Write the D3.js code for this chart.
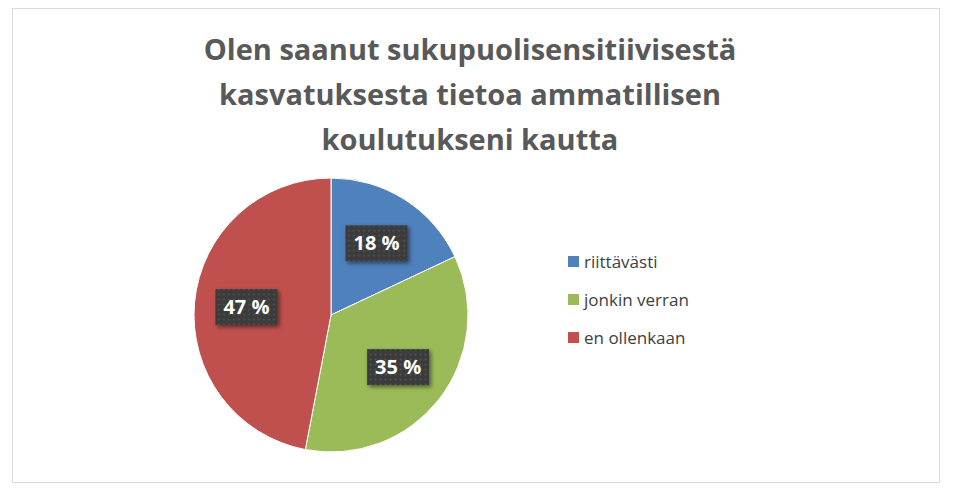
<!DOCTYPE html>
<html><head><meta charset="utf-8">
<script src="https://cdn.jsdelivr.net/npm/d3@7"></script>
<style>body{margin:0;background:#fff}</style>
</head><body>
<script>
// chart data
var categories = ["riittävästi", "jonkin verran", "en ollenkaan"];
var values = [18, 35, 47];
var colors = ["#4f81bd", "#9bbb59", "#c0504d"];
var titleLines = ["Olen saanut sukupuolisensitiivisestä", "kasvatuksesta tietoa ammatillisen", "koulutukseni kautta"];

var svg = d3.select("body").append("svg").attr("width", 954).attr("height", 501);
var font = "'Open Sans', 'Noto Sans', sans-serif";

var defs = svg.append("defs");
var pat = defs.append("pattern").attr("id", "dots").attr("width", 5).attr("height", 5)
    .attr("patternUnits", "userSpaceOnUse");
pat.append("rect").attr("width", 5).attr("height", 5).attr("fill", "#3b3b3b");
pat.append("circle").attr("cx", 2.5).attr("cy", 2.5).attr("r", 1).attr("fill", "#555");
var sh = defs.append("filter").attr("id", "sh").attr("x", "-20%").attr("y", "-20%").attr("width", "150%").attr("height", "150%");
sh.append("feDropShadow").attr("dx", 2).attr("dy", 2).attr("stdDeviation", 2).attr("flood-opacity", 0.5);

svg.append("rect").attr("x", 12.5).attr("y", 8.5).attr("width", 927).attr("height", 474)
    .attr("fill", "#fff").attr("stroke", "#d9d9d9");

svg.append("g").selectAll("text").data(titleLines).join("text")
    .attr("x", 470).attr("y", function (d, i) { return 60 + i * 45; })
    .attr("text-anchor", "middle").attr("font-family", font).attr("font-weight", "bold")
    .attr("font-size", 29).attr("fill", "#595959").text(function (d) { return d; });

var cx = 331, cy = 315, r = 137;
var pie = d3.pie().sort(null).value(function (d) { return d; });
var arc = d3.arc().innerRadius(0).outerRadius(r);
var arcs = pie(values);
var g = svg.append("g").attr("transform", "translate(" + cx + "," + cy + ")");
g.selectAll("path").data(arcs).join("path").attr("d", arc)
    .attr("fill", function (d, i) { return colors[i]; })
    .attr("stroke", "#fff").attr("stroke-width", 1);

var labelArc = d3.arc().innerRadius(r * 0.62).outerRadius(r * 0.62);
var lab = g.selectAll("g.lab").data(arcs).join("g").attr("class", "lab")
    .attr("transform", function (d) { var c = labelArc.centroid(d); return "translate(" + c + ")"; });
lab.append("rect").attr("x", -31).attr("y", -18).attr("width", 62).attr("height", 36)
    .attr("fill", "url(#dots)").attr("filter", "url(#sh)");
lab.append("text").attr("text-anchor", "middle").attr("dy", "0.36em")
    .attr("font-family", font).attr("font-weight", "bold").attr("font-size", 20)
    .attr("fill", "#fff").text(function (d) { return d.value + " %"; });

var leg = svg.append("g").selectAll("g").data(categories).join("g")
    .attr("transform", function (d, i) { return "translate(568," + (262 + i * 38) + ")"; });
leg.append("rect").attr("x", 0).attr("y", -6).attr("width", 11).attr("height", 11)
    .attr("fill", function (d, i) { return colors[i]; });
leg.append("text").attr("x", 16).attr("dy", "0.35em").attr("font-family", font)
    .attr("font-size", 17).attr("fill", "#404040").text(function (d) { return d; });
</script>
</body></html>
